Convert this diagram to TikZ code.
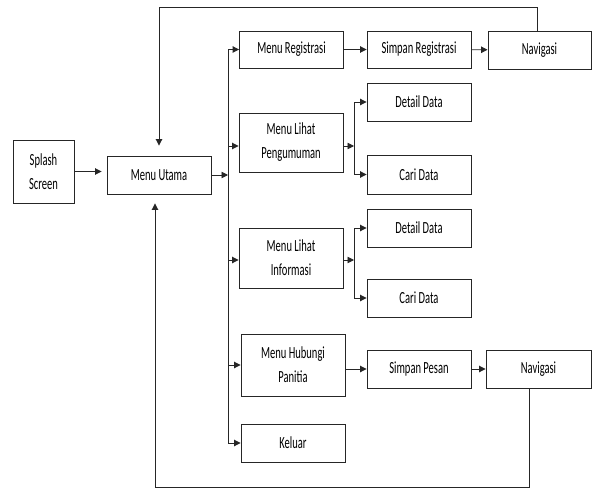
\documentclass[tikz,border=0pt]{standalone}
\usepackage{fontspec}
\setmainfont{Carlito}[FakeStretch=0.62]
\usepackage{tikz}
\usetikzlibrary{arrows.meta}

\begin{document}
\begin{tikzpicture}[x=1pt,y=-1pt,line width=0.9pt]
\tikzstyle{every node}+=[inner sep=0pt]
\tikzstyle{box}=[draw=black!85,rectangle,align=center,font=\fontsize{17}{24}\selectfont,minimum width=104pt,minimum height=38pt]
\tikzstyle{arr}=[draw=black!85,-{Triangle[length=6.5pt,width=6.5pt]}]
\useasboundingbox (0,0) rectangle (593,489);
\node [box,minimum width=61pt,minimum height=63pt] (splash) at (43.5,171.5) {Splash\\Screen};
\node [box] (utama) at (159,175) {Menu Utama};
\node [box,minimum height=37pt] (reg) at (291.5,49.5) {Menu Registrasi};
\node [box,minimum height=59pt] (peng) at (291,142.5) {Menu Lihat\\Pengumuman};
\node [box,minimum height=60pt] (info) at (291,258) {Menu Lihat\\Informasi};
\node [box,minimum height=62pt] (hub) at (293,365) {Menu Hubungi\\Panitia};
\node [box] (keluar) at (293,443) {Keluar};
\node [box,minimum height=37pt] (simreg) at (419,49.5) {Simpan Registrasi};
\node [box,minimum width=103pt] (nav1) at (539.5,50) {Navigasi};
\node [box] (det1) at (419,102) {Detail Data};
\node [box,minimum height=39pt] (cari1) at (419,174.5) {Cari Data};
\node [box] (det2) at (419,228) {Detail Data};
\node [box] (cari2) at (419,298) {Cari Data};
\node [box] (simpes) at (419,369) {Simpan Pesan};
\node [box,minimum width=105pt] (nav2) at (538.5,369) {Navigasi};
\coordinate (trunk) at (228,0);
\coordinate (j1) at (354,146);
\coordinate (j2) at (354,260);
\coordinate (topline) at (0,7);
\coordinate (botline) at (0,487);
\draw [arr,shorten >=5pt] (splash.east) -- (splash.east -| utama.west);
\draw [arr] (utama.east) -- (utama.east -| trunk);
\draw [black!85] (reg.west -| trunk) -- (keluar.west -| trunk);
\draw [arr] (reg.west -| trunk) -- (reg.west);
\draw [arr] (j1 -| trunk) -- (peng.west |- j1);
\draw [arr] (j2 -| trunk) -- (info.west |- j2);
\draw [arr] (hub.west -| trunk) -- (hub.west);
\draw [arr] (keluar.west -| trunk) -- (keluar.west);
\draw [arr] (reg) -- (simreg);
\draw [arr] (simreg) -- (nav1);
\draw [arr] (peng.east |- j1) -- (j1);
\draw [arr] (j1) |- (det1.west);
\draw [arr] (j1) |- (cari1.west);
\draw [arr] (info.east |- j2) -- (j2);
\draw [arr] (j2) |- (det2.west);
\draw [arr] (j2) |- (cari2.west);
\draw [arr] (hub.east |- simpes.west) -- (simpes.west);
\draw [arr] (simpes) -- (nav2);
\draw [arr,shorten >=10pt] ([xshift=-2pt]nav1.north) |- (topline -| utama.north) -- (utama.north);
\draw [arr,shorten >=9pt] ([xshift=-9pt]nav2.south) |- ([xshift=-4pt]botline -| utama.south) -- ([xshift=-4pt]utama.south);
\end{tikzpicture}
\end{document}
